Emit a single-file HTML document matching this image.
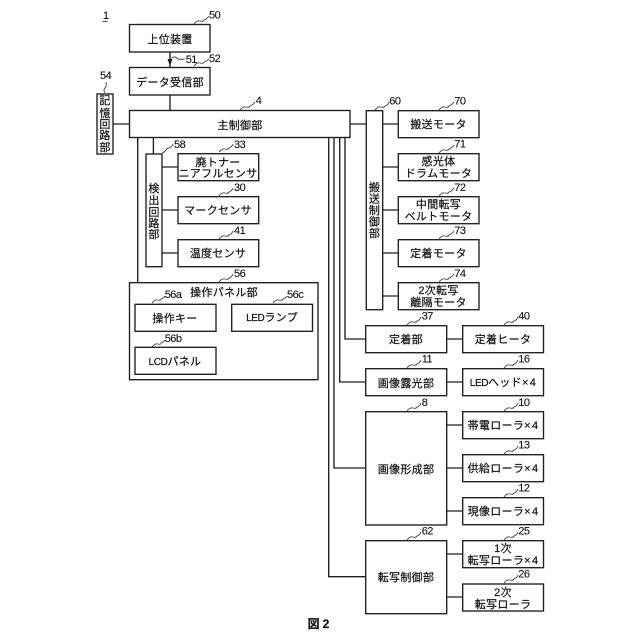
<!DOCTYPE html>
<html lang="ja"><head><meta charset="utf-8"><title>図2</title>
<style>
html,body{margin:0;padding:0;background:#fff}
svg{display:block;filter:blur(.3px)}
.b rect{fill:#fff;stroke:#1e1e1e;stroke-width:1.35}
.l path{fill:none;stroke:#1e1e1e;stroke-width:1.35}
.q path{fill:none;stroke:#444;stroke-width:.9}
.t text{font-family:"Liberation Sans","Noto Sans CJK JP",sans-serif;font-size:11px;fill:#111;stroke:#111;stroke-width:.2;text-anchor:middle;letter-spacing:.3px}
.t tspan.a{font-size:10px;letter-spacing:-.4px}
.t tspan.x{letter-spacing:1.4px}
.n text{font-family:"Liberation Sans",sans-serif;font-size:11px;fill:#111;letter-spacing:-.5px;stroke:#111;stroke-width:.12}
</style></head><body>
<svg width="640" height="640" viewBox="0 0 640 640" xmlns="http://www.w3.org/2000/svg">
<g class="l"><path d="M170 52V67.5M170 95V110.5M113 124H129.500M350 124H366.300M137.700 137.500V282.700M153.400 137.500V154M162 167H178M162 210H178M162 253H178M382.700 124H398.300M382.700 167H398.300M382.700 210H398.300M382.700 253H398.300M382.700 296H398.300M345 137.500V339H365.700M339.700 137.500V382H365.700M334 137.500V468H365.700M328.700 137.500V576.700H365.700M446.700 339H462.700M446.700 382H462.700M446.700 425H462.700M446.700 468H462.700M446.700 511H462.700M446.700 554H462.700M446.700 597H462.700"/></g>
<path d="M167.500 59H172.500L170 66Z" fill="#1e1e1e"/>
<g class="b">
<rect x="129.500" y="24.500" width="80.500" height="27.500"/>
<rect x="129.500" y="67.500" width="80.500" height="27.500"/>
<rect x="129.500" y="110.500" width="220.500" height="27"/>
<rect x="97" y="94" width="16" height="60"/>
<rect x="146" y="154" width="16" height="112.700"/>
<rect x="178" y="153.700" width="80.700" height="27"/>
<rect x="178" y="196.700" width="80.700" height="27"/>
<rect x="178" y="239.700" width="80.700" height="27"/>
<rect x="129.500" y="282.700" width="188.500" height="97"/>
<rect x="135" y="304.300" width="81" height="27"/>
<rect x="231.700" y="304.300" width="80.800" height="27"/>
<rect x="135" y="347.300" width="81" height="27"/>
<rect x="366.300" y="110.700" width="16.400" height="199"/>
<rect x="398.300" y="110.700" width="80.700" height="27"/>
<rect x="398.300" y="153.700" width="80.700" height="27"/>
<rect x="398.300" y="196.700" width="80.700" height="27"/>
<rect x="398.300" y="239.700" width="80.700" height="27"/>
<rect x="398.300" y="282.700" width="80.700" height="27"/>
<rect x="365.700" y="325.700" width="81" height="27"/>
<rect x="365.700" y="368.700" width="81" height="27"/>
<rect x="365.700" y="411.700" width="81" height="113.300"/>
<rect x="365.700" y="540.700" width="81" height="73"/>
<rect x="462.700" y="325.700" width="80.800" height="27"/>
<rect x="462.700" y="368.700" width="80.800" height="27"/>
<rect x="462.700" y="411.700" width="80.800" height="27"/>
<rect x="462.700" y="454.700" width="80.800" height="27"/>
<rect x="462.700" y="497.700" width="80.800" height="27"/>
<rect x="462.700" y="540.700" width="80.800" height="27"/>
<rect x="462.700" y="584" width="80.800" height="27"/>
</g>
<g class="q">
<path d="M194 24q3-4 6-3t4-1q3-1 5-4"/>
<path d="M171.700 58q3-2 5 0t8 1"/>
<path d="M194 66q3-4 6-3t4-1q3-1 5-3"/>
<path d="M105 93q-2-3 0-5t1-6"/>
<path d="M240 110q3-4 6-3t4-1q3-1 5-4"/>
<path d="M162 153q3-1 4-3t3-2q3-1 4-4"/>
<path d="M219 152q3-4 6-3t4-1q3-1 4-4"/>
<path d="M219 196q3-4 6-3t4-1q3-1 4-4"/>
<path d="M219 239q3-4 6-3t4-1q3-1 4-4"/>
<path d="M219 282q3-4 6-3t4-1q3-1 4-4"/>
<path d="M152 303q3-4 6-3t3-1q3-1 4-3"/>
<path d="M273 303q3-4 6-3t4-1q3-1 4-3"/>
<path d="M152 347q3-4 6-3t3-1q3-1 4-3"/>
<path d="M375 110q3-4 6-3t4-1q3-1 4-4"/>
<path d="M439 110q3-4 6-3t4-1q3-1 5-4"/>
<path d="M439 153q3-4 6-3t4-1q3-1 5-4"/>
<path d="M439 196q3-4 6-3t4-1q3-1 5-4"/>
<path d="M439 239q3-4 6-3t4-1q3-1 5-4"/>
<path d="M439 282q3-4 6-3t4-1q3-1 5-4"/>
<path d="M407 325q3-4 6-3t4-1q3-1 4-4"/>
<path d="M504 325q3-4 6-3t4-1q3-1 4-4"/>
<path d="M407 368q3-4 6-3t4-1q3-1 4-4"/>
<path d="M504 368q3-4 6-3t4-1q3-1 4-4"/>
<path d="M407 411q3-4 6-3t4-1q3-1 4-4"/>
<path d="M504 411q3-4 6-3t4-1q3-1 4-4"/>
<path d="M504 454q3-4 6-3t4-1q3-1 4-4"/>
<path d="M504 497q3-4 6-3t4-1q3-1 4-4"/>
<path d="M407 540q3-4 6-3t4-1q3-1 4-4"/>
<path d="M504 540q3-4 6-3t4-1q3-1 4-4"/>
<path d="M504 583q3-4 6-3t4-1q3-1 4-4"/>
<path d="M102 21q3 1 6 0"/>
</g>
<g class="t">
<text x="170" y="43">上位装置</text>
<text x="170" y="86">データ受信部</text>
<text x="240" y="129">主制御部</text>
<text x="105" y="104">記</text><text x="105" y="117">憶</text><text x="105" y="128">回</text><text x="105" y="139">路</text><text x="105" y="151">部</text>
<text x="154" y="192">検</text><text x="154" y="204">出</text><text x="154" y="216">回</text><text x="154" y="227">路</text><text x="154" y="238">部</text>
<text x="218" y="166">廃トナー</text>
<text x="218" y="177">ニアフルセンサ</text>
<text x="218" y="214">マークセンサ</text>
<text x="218" y="257">温度センサ</text>
<text x="224" y="296">操作パネル部</text>
<text x="175" y="322">操作キー</text>
<text x="272" y="321"><tspan class="a">LED</tspan>ランプ</text>
<text x="175" y="365"><tspan class="a">LCD</tspan>パネル</text>
<text x="374.500" y="191">搬</text><text x="374.500" y="202.500">送</text><text x="374.500" y="214">制</text><text x="374.500" y="225.500">御</text><text x="374.500" y="237">部</text>
<text x="438.500" y="128">搬送モータ</text>
<text x="438.500" y="165">感光体</text>
<text x="438.500" y="177">ドラムモータ</text>
<text x="438.500" y="208">中間転写</text>
<text x="438.500" y="220">ベルトモータ</text>
<text x="438.500" y="257">定着モータ</text>
<text x="438.500" y="294">2次転写</text>
<text x="438.500" y="306">離隔モータ</text>
<text x="406" y="343">定着部</text>
<text x="503" y="343">定着ヒータ</text>
<text x="406" y="387">画像露光部</text>
<text x="503" y="386"><tspan class="a">LED</tspan>ヘッド<tspan class="x">×</tspan>4</text>
<text x="406" y="473">画像形成部</text>
<text x="503" y="429">帯電ローラ<tspan class="x">×</tspan>4</text>
<text x="503" y="472">供給ローラ<tspan class="x">×</tspan>4</text>
<text x="503" y="515">現像ローラ<tspan class="x">×</tspan>4</text>
<text x="406" y="581">転写制御部</text>
<text x="503" y="552">1次</text>
<text x="503" y="564">転写ローラ<tspan class="x">×</tspan>4</text>
<text x="503" y="596">2次</text>
<text x="503" y="608">転写ローラ</text>
<text x="320" y="628" style="font-size:12px;font-weight:bold;letter-spacing:3px">図2</text>
</g>
<g class="n">
<text x="103" y="19">1</text>
<text x="209" y="18.500">50</text>
<text x="185.700" y="63">51</text>
<text x="209" y="62">52</text>
<text x="100" y="79">54</text>
<text x="255.700" y="104">4</text>
<text x="174" y="148">58</text>
<text x="234" y="148">33</text>
<text x="234" y="191">30</text>
<text x="234" y="234">41</text>
<text x="234" y="277">56</text>
<text x="164.700" y="298">56a</text>
<text x="287" y="298">56c</text>
<text x="164.700" y="342">56b</text>
<text x="389.300" y="104.300">60</text>
<text x="454.300" y="104.300">70</text>
<text x="454.300" y="147.300">71</text>
<text x="454.300" y="191">72</text>
<text x="454.300" y="234">73</text>
<text x="454.300" y="277">74</text>
<text x="421.700" y="319.300">37</text>
<text x="518.300" y="319.300">40</text>
<text x="421.700" y="362.700">11</text>
<text x="518.300" y="362.700">16</text>
<text x="421.700" y="406">8</text>
<text x="518.300" y="406">10</text>
<text x="518.300" y="448.300">13</text>
<text x="518.300" y="491.700">12</text>
<text x="421.700" y="534.300">62</text>
<text x="518.300" y="534.300">25</text>
<text x="518.300" y="577.300">26</text>
</g>
</svg>
</body></html>
